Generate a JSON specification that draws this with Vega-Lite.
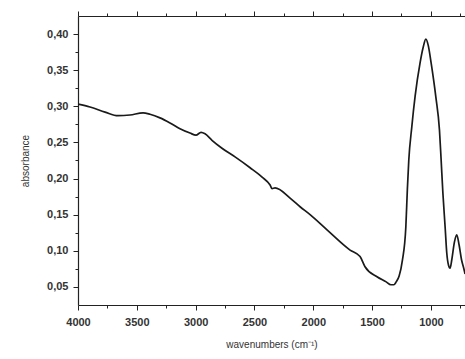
{
  "$schema": "https://vega.github.io/schema/vega-lite/v6.json",
  "width": 387,
  "height": 289,
  "autosize": {"type": "none"},
  "padding": {"left": 78, "top": 16, "right": 0, "bottom": 54},
  "background": "white",
  "config": {
    "view": {"stroke": null},
    "axis": {"grid": false, "domainColor": "#222", "tickColor": "#222", "labelFont": "Liberation Sans", "titleFont": "Liberation Sans", "labelColor": "#333", "titleColor": "#333", "domainWidth": 1.2, "tickWidth": 1}
  },
  "data": {"values": [
    {"wn": 4000, "abs": 0.303}, {"wn": 3898, "abs": 0.299}, {"wn": 3770, "abs": 0.292}, {"wn": 3660, "abs": 0.287},
    {"wn": 3558, "abs": 0.288}, {"wn": 3447, "abs": 0.291}, {"wn": 3388, "abs": 0.289}, {"wn": 3303, "abs": 0.284},
    {"wn": 3218, "abs": 0.277}, {"wn": 3133, "abs": 0.269}, {"wn": 3048, "abs": 0.263}, {"wn": 2997, "abs": 0.260},
    {"wn": 2954, "abs": 0.264}, {"wn": 2920, "abs": 0.262}, {"wn": 2861, "abs": 0.253}, {"wn": 2776, "abs": 0.242},
    {"wn": 2665, "abs": 0.230}, {"wn": 2537, "abs": 0.215}, {"wn": 2435, "abs": 0.202}, {"wn": 2367, "abs": 0.191},
    {"wn": 2350, "abs": 0.186}, {"wn": 2325, "abs": 0.187}, {"wn": 2197, "abs": 0.173}, {"wn": 2112, "abs": 0.161},
    {"wn": 2027, "abs": 0.150}, {"wn": 1883, "abs": 0.129}, {"wn": 1687, "abs": 0.101}, {"wn": 1602, "abs": 0.092},
    {"wn": 1560, "abs": 0.078}, {"wn": 1458, "abs": 0.064}, {"wn": 1380, "abs": 0.057}, {"wn": 1340, "abs": 0.053},
    {"wn": 1315, "abs": 0.053}, {"wn": 1295, "abs": 0.057}, {"wn": 1270, "abs": 0.065}, {"wn": 1242, "abs": 0.087},
    {"wn": 1213, "abs": 0.133}, {"wn": 1200, "abs": 0.185}, {"wn": 1188, "abs": 0.225}, {"wn": 1162, "abs": 0.272},
    {"wn": 1134, "abs": 0.314}, {"wn": 1092, "abs": 0.360}, {"wn": 1065, "abs": 0.382},
    {"wn": 1043, "abs": 0.393}, {"wn": 1022, "abs": 0.384}, {"wn": 998, "abs": 0.360}, {"wn": 958, "abs": 0.313},
    {"wn": 927, "abs": 0.267}, {"wn": 913, "abs": 0.226}, {"wn": 898, "abs": 0.180}, {"wn": 879, "abs": 0.133},
    {"wn": 865, "abs": 0.097}, {"wn": 850, "abs": 0.080}, {"wn": 837, "abs": 0.076}, {"wn": 822, "abs": 0.088},
    {"wn": 800, "abs": 0.112}, {"wn": 780, "abs": 0.122}, {"wn": 760, "abs": 0.108}, {"wn": 740, "abs": 0.088},
    {"wn": 724, "abs": 0.078}, {"wn": 709, "abs": 0.068}
  ]},
  "resolve": {"axis": {"x": "independent", "y": "independent"}},
  "layer": [
    {
      "mark": {"type": "line", "color": "#1a1a1a", "strokeWidth": 1.7, "interpolate": "monotone", "clip": true},
      "encoding": {
        "x": {"field": "wn", "type": "quantitative", "scale": {"domain": [710, 4000], "reverse": true, "nice": false, "zero": false},
          "axis": {"orient": "bottom", "values": [4000, 3500, 3000, 2500, 2000, 1500, 1000], "format": "d", "labelFontSize": 11, "labelFontWeight": "bold", "tickSize": 5, "labelPadding": 6, "title": "wavenumbers (cm⁻¹)", "titleFontSize": 10, "titleFontWeight": "normal", "titlePadding": 12, "labelFlush": false}},
        "y": {"field": "abs", "type": "quantitative", "scale": {"domain": [0.025, 0.425], "nice": false, "zero": false},
          "axis": {"orient": "left", "values": [0.05, 0.1, 0.15, 0.2, 0.25, 0.3, 0.35, 0.4], "labelExpr": "replace(format(datum.value, '.2f'), '.', ',')", "labelFontSize": 11, "labelFontWeight": "bold", "tickSize": 5, "labelPadding": 5, "title": "absorbance", "titleFontSize": 10, "titleFontWeight": "normal", "titlePadding": 16}}
      }
    },
    {
      "mark": {"type": "line", "opacity": 0},
      "encoding": {
        "x": {"field": "wn", "type": "quantitative", "scale": {"domain": [710, 4000], "reverse": true, "nice": false, "zero": false},
          "axis": {"orient": "bottom", "values": [3750, 3250, 2750, 2250, 1750, 1250, 750], "labels": false, "tickSize": 3, "title": null, "domain": false}},
        "y": {"field": "abs", "type": "quantitative", "scale": {"domain": [0.025, 0.425], "nice": false, "zero": false},
          "axis": {"orient": "left", "values": [0.075, 0.125, 0.175, 0.225, 0.275, 0.325, 0.375], "labels": false, "tickSize": 3, "title": null, "domain": false}}
      }
    },
    {
      "mark": {"type": "line", "opacity": 0},
      "encoding": {
        "x": {"field": "wn", "type": "quantitative", "scale": {"domain": [710, 4000], "reverse": true, "nice": false, "zero": false},
          "axis": {"orient": "top", "values": [4000, 3500, 3000, 2500, 2000, 1500, 1000], "labels": false, "tickSize": 5, "title": null}}
      }
    },
    {
      "mark": {"type": "line", "opacity": 0},
      "encoding": {
        "x": {"field": "wn", "type": "quantitative", "scale": {"domain": [710, 4000], "reverse": true, "nice": false, "zero": false},
          "axis": {"orient": "top", "values": [3750, 3250, 2750, 2250, 1750, 1250, 750], "labels": false, "tickSize": 3, "title": null, "domain": false}}
      }
    }
  ]
}
